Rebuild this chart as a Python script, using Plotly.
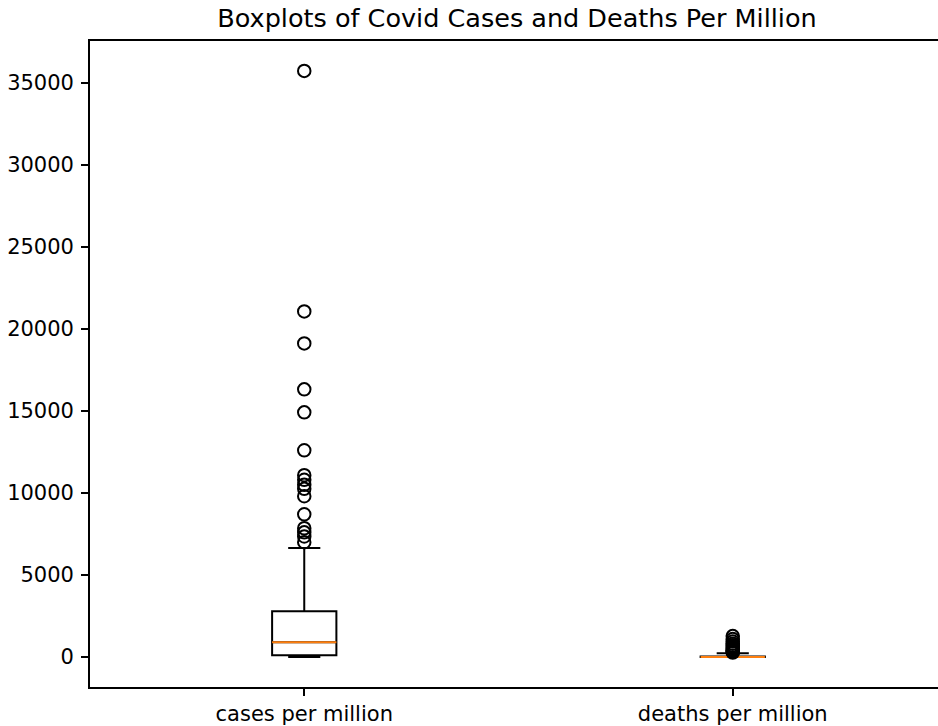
import plotly.graph_objects as go

categories = ["cases per million", "deaths per million"]
positions = [1, 2]

# box statistics
q1 = [120, 1]
median = [910, 8]
q3 = [2800, 35]
lowerfence = [0, 0]
upperfence = [6650, 240]

cases_outliers = [35710, 21060, 19110, 16310, 14910, 12600, 11080, 10800, 10500,
                  10250, 9800, 8700, 7850, 7600, 7350, 7000]
deaths_outliers = [1280, 1100, 950, 820, 720, 630, 550, 480, 420, 370, 320, 280]

ytick_vals = [0, 5000, 10000, 15000, 20000, 25000, 30000, 35000]
ytick_text = [str(v) for v in ytick_vals]

fig = go.Figure()

fig.add_trace(go.Box(
    x=positions, q1=q1, median=median, q3=q3,
    lowerfence=lowerfence, upperfence=upperfence,
    width=0.15, whiskerwidth=0.5,
    line=dict(color="black", width=2), fillcolor="rgba(255,255,255,0)",
    boxpoints=False, showlegend=False, hoverinfo="skip",
))
# orange median lines
fig.add_trace(go.Box(
    x=positions, q1=median, median=median, q3=median,
    lowerfence=median, upperfence=median,
    width=0.15, whiskerwidth=0,
    line=dict(color="#ff7f0e", width=2), fillcolor="rgba(255,255,255,0)",
    boxpoints=False, showlegend=False, hoverinfo="skip",
))

marker_style = dict(symbol="circle-open", size=12.5, color="black", line=dict(width=2))
fig.add_trace(go.Scatter(
    x=[positions[0]] * len(cases_outliers), y=cases_outliers, mode="markers",
    marker=marker_style, showlegend=False,
))
fig.add_trace(go.Scatter(
    x=[positions[1]] * len(deaths_outliers), y=deaths_outliers, mode="markers",
    marker=marker_style, showlegend=False,
))

fig.update_layout(
    width=938, height=726,
    margin=dict(l=90, r=0, t=41, b=37),
    paper_bgcolor="white", plot_bgcolor="white",
    font=dict(family="DejaVu Sans", size=21, color="black"),
    title=dict(text="Boxplots of Covid Cases and Deaths Per Million",
               x=517 / 938, xanchor="center", y=1 - 18 / 726, yanchor="middle",
               font=dict(size=25.5)),
    xaxis=dict(range=[0.5, 2.479], tickvals=positions, ticktext=categories,
               showgrid=False, zeroline=False, showline=True, mirror=True,
               linecolor="black", linewidth=1.7, ticks="outside", ticklen=7,
               tickcolor="black", tickwidth=1.7),
    yaxis=dict(range=[-1820, 37530], tickvals=ytick_vals, ticktext=ytick_text,
               showgrid=False, zeroline=False, showline=True, mirror=False,
               linecolor="black", linewidth=1.7, ticks="outside", ticklen=7,
               tickcolor="black", tickwidth=1.7, ticklabelstandoff=3),
)

fig.write_html("out.html", config={"displayModeBar": False},
               post_script="document.body.style.margin='0';")
